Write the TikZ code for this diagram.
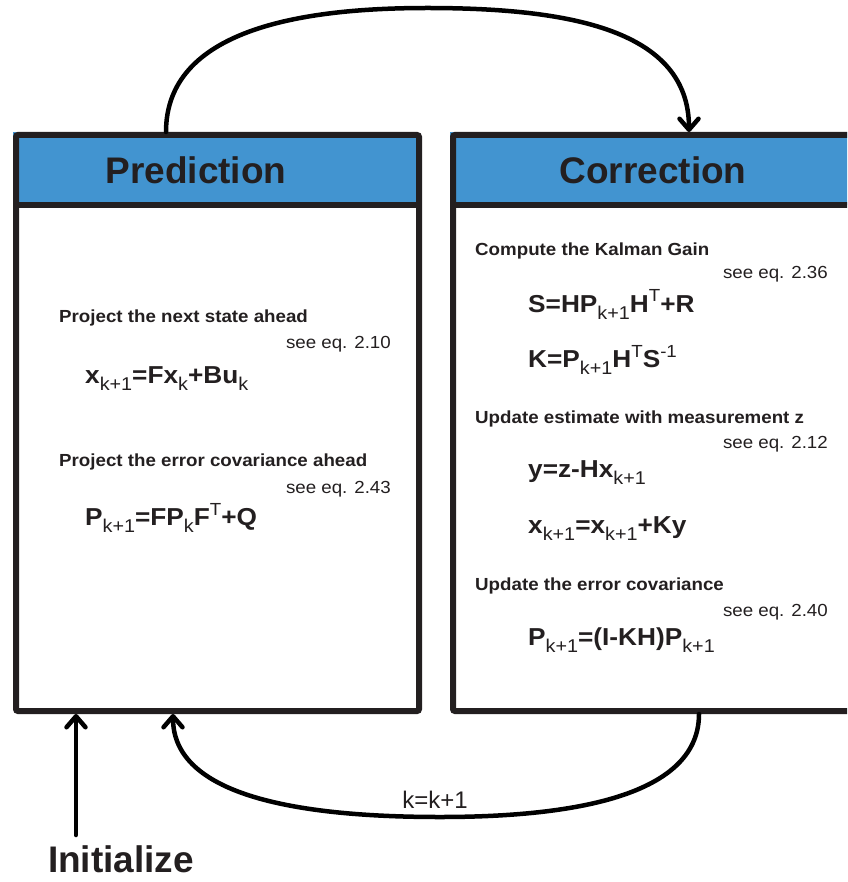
\documentclass[tikz,border=0pt]{standalone}
\usepackage{fontspec}
\setmainfont{Liberation Sans}
\newfontfamily\wfont[FakeStretch=1.07]{Liberation Sans}
\usetikzlibrary{arrows.meta}
\definecolor{ink}{HTML}{231F20}
\definecolor{hdblue}{HTML}{4294D0}
\newcommand\hdfont{\fontsize{37}{40}\selectfont\bfseries}
\newcommand\subhfont{\wfont\fontsize{17.5}{20}\selectfont\bfseries}
\newcommand\seefont{\wfont\fontsize{17.5}{20}\selectfont}
\newcommand\eqfont{\wfont\fontsize{24.5}{28}\selectfont\bfseries}
\newcommand\ssub[1]{\raisebox{-7.5pt}{\wfont\fontsize{18.5}{20}\selectfont\mdseries #1}}
\newcommand\ssup[1]{\raisebox{10pt}{\wfont\fontsize{17.5}{20}\selectfont\mdseries #1}}
\begin{document}
\begin{tikzpicture}[x=1pt,y=1pt,
  border/.style={draw=ink, line width=6pt},
  boxnode/.style={border, rounded corners=2pt, inner sep=0pt, minimum height=576pt, anchor=north west},
  headnode/.style={fill=hdblue, inner sep=0pt, outer sep=0pt, minimum height=73pt, anchor=north west},
  title/.style={text=ink, inner sep=0pt, anchor=base, font=\hdfont},
  subh/.style={text=ink, inner sep=0pt, anchor=base west, font=\subhfont},
  seeq/.style={text=ink, inner sep=0pt, anchor=base east, font=\seefont},
  formula/.style={text=ink, inner sep=0pt, anchor=base west, font=\eqfont},
  arr/.style={line width=4.5pt, draw=black, line cap=round, -{Straight Barb[length=11pt,width=19pt,round]}}
]
\useasboundingbox (0,0) rectangle (847,-882);
\clip (0,0) rectangle (847,-882);

% header fills
\node[headnode, minimum width=403pt] (predhead) at (13,-132) {};
\node[headnode, minimum width=420pt] (corrhead) at (450,-132) {};

% boxes
\node[boxnode, minimum width=403pt] (pred) at (13,-132) {};
\node[boxnode, minimum width=420pt] (corr) at (450,-132) {};
\draw[border] (predhead.south west) -- (predhead.south east);
\draw[border] (corrhead.south west) -- (corrhead.south east);

% titles
\node[title] (predtitle) at (196,-184) {Prediction};
\node[title] (corrtitle) at (653,-184) {Correction};

% prediction content
\node[subh] (p1) at (59,-322) {Project the next state ahead};
\node[seeq] (p1eq) at (391,-348) {see eq. 2.10};
\node[formula] (p1f) at (85,-383) {x\ssub{k+1}=Fx\ssub{k}+Bu\ssub{k}};
\node[subh] (p2) at (59,-466) {Project the error covariance ahead};
\node[seeq] (p2eq) at (391,-493) {see eq. 2.43};
\node[formula] (p2f) at (85,-525) {P\ssub{k+1}=FP\ssub{k}F\ssup{T}+Q};

% correction content
\node[subh] (c1) at (475,-255) {Compute the Kalman Gain};
\node[seeq] (c1eq) at (828,-278) {see eq. 2.36};
\node[formula] (c1f) at (528,-312) {S=HP\ssub{k+1}H\ssup{T}+R};
\node[formula] (c1g) at (528,-367) {K=P\ssub{k+1}H\ssup{T}S\ssup{-1}};
\node[subh] (c2) at (475,-423) {Update estimate with measurement z};
\node[seeq] (c2eq) at (828,-448) {see eq. 2.12};
\node[formula] (c2f) at (528,-477) {y=z-Hx\ssub{k+1}};
\node[formula] (c2g) at (528,-533) {x\ssub{k+1}=x\ssub{k+1}+Ky};
\node[subh] (c3) at (475,-590) {Update the error covariance};
\node[seeq] (c3eq) at (828,-616) {see eq. 2.40};
\node[formula] (c3f) at (528,-645) {P\ssub{k+1}=(I-KH)P\ssub{k+1}};

% initialize
\node[title] (init) at (121,-872) {Initialize};
\coordinate (initstart) at (76,-835);
\draw[arr] (initstart) -- (initstart |- pred.south);

% top arc: prediction -> correction
\coordinate (tA) at (166,0);
\coordinate (tB) at (689,0);
\draw[arr] (tA |- pred.north) .. controls (166,-30) and (300,-8) .. (427,-8)
  .. controls (570,-8) and (689,-30) .. (tB |- corr.north);

% bottom arc: correction -> prediction
\coordinate (bA) at (699,0);
\coordinate (bB) at (173,0);
\draw[arr] (bA |- corr.south) .. controls (699,-800) and (560,-817) .. (440,-817)
  .. controls (280,-817) and (173,-790) .. (bB |- pred.south);
\node[text=ink, inner sep=0pt, anchor=base, font=\fontsize{24}{26}\selectfont] (kk) at (435,-808) {k=k+1};
\end{tikzpicture}
\end{document}
